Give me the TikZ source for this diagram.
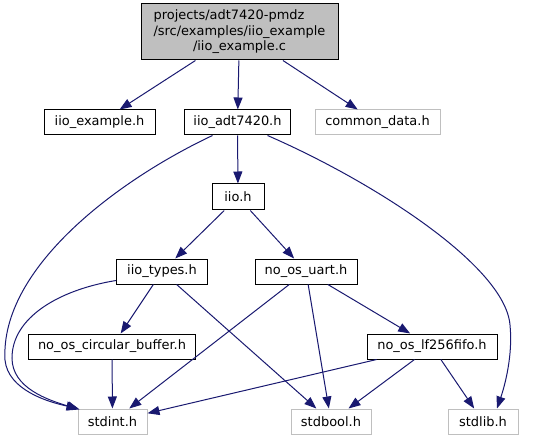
\documentclass[tikz,border=0pt]{standalone}
\usepackage{fontspec}
\setmainfont{DejaVu Sans}
\usetikzlibrary{arrows.meta}
\definecolor{edge}{HTML}{191970}
\definecolor{undoc}{HTML}{BFBFBF}
\definecolor{srcgray}{HTML}{BFBFBF}
\tikzset{
  inc/.style={draw=#1, fill=white, line width=1bp, minimum height=25bp,
    inner sep=0pt, font=\fontsize{13}{15.5}\selectfont, text=black},
  inc/.default=black,
  sys/.style={inc=undoc},
  srcfile/.style={inc, fill=srcgray, minimum width=197bp, minimum height=56bp},
  dep/.style={-{Triangle[length=12bp,width=9bp]}, line width=1bp, color=edge},
}

\begin{document}
\begin{tikzpicture}[x=1bp,y=-1bp]
  \useasboundingbox (0,0) rectangle (536,440);
  % include tree of iio_example.c
  \node[srcfile] (root) at (239.5,32)
    {\begin{tabular}{@{}l@{}}projects/adt7420-pmdz\\/src/examples/iio\_example\\\multicolumn{1}{@{}c@{}}{/iio\_example.c}\end{tabular}};
  \node[inc, minimum width=111bp] (exh) at (99.5,122.5) {iio\_example.h};
  \node[inc, minimum width=106bp] (adt) at (237.5,122.5) {iio\_adt7420.h};
  \node[sys, minimum width=125bp] (common) at (377.5,122.5) {common\_data.h};
  \node[inc, minimum width=52bp, minimum height=26bp] (iio) at (238,197) {iio.h};
  \node[inc, minimum width=91bp] (types) at (162,271.5) {iio\_types.h};
  \node[inc, minimum width=102bp] (uart) at (306,271.5) {no\_os\_uart.h};
  \node[inc, minimum width=166bp] (cbuf) at (112,346.5) {no\_os\_circular\_buffer.h};
  \node[inc, minimum width=130bp] (fifo) at (432,346.5) {no\_os\_lf256fifo.h};
  \node[sys, minimum width=69bp] (stdint) at (112.5,421.5) {stdint.h};
  \node[sys, minimum width=80bp] (stdbool) at (331,421.5) {stdbool.h};
  \node[sys, minimum width=70bp] (stdlib) at (483,421.5) {stdlib.h};

  \foreach \a/\b in {root/exh, root/adt, root/common, adt/iio, iio/types, iio/uart,
    types/cbuf, types/stdbool, uart/stdint, uart/stdbool, uart/fifo, cbuf/stdint,
    fifo/stdint, fifo/stdbool, fifo/stdlib}
    \draw[dep] (\a) -- (\b);

  % the long ones bend round the sides
  \draw[dep] ([xshift=-25bp]adt.south) .. controls (118,180) and (0,268) .. (5,360)
    .. controls (8,390) and (48,402) .. ([xshift=1bp]stdint.north west);
  \draw[dep] ([yshift=-9bp]types.west) .. controls (58,290) and (12,318) .. (12,358)
    .. controls (12,388) and (48,400) .. ([xshift=2bp,yshift=-1bp]stdint.north west);
  \draw[dep] ([xshift=30bp]adt.south) .. controls (370,180) and (505,265) .. (510,325)
    .. controls (513,355) and (505,385) .. ([xshift=14bp]stdlib.north);
\end{tikzpicture}
\end{document}
